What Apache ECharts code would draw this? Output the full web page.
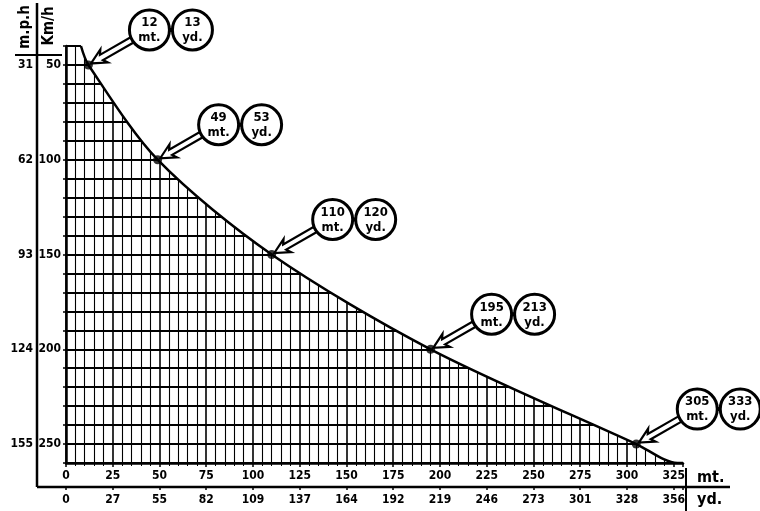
<!DOCTYPE html>
<html>
<head>
<meta charset="utf-8">
<script src="https://cdn.jsdelivr.net/npm/echarts@6/dist/echarts.min.js"></script>
<style>
  html, body { margin: 0; padding: 0; background: #fff; }
  #chart { width: 760px; height: 511px; }
</style>
</head>
<body>
<div id="chart"></div>
<script>
// curve: distance (mt) against speed (km/h)
const curveMt = [8, 12, 49, 110, 195, 305, 327, 330]
const curveKmh = [40, 50, 100, 150, 200, 250, 260, 260]
// short top edge of the hatched area
const topMt = [0, 8]
const topKmh = [40, 40]

// marked points
const markMt = [12, 49, 110, 195, 305]
const markYd = [13, 53, 120, 213, 333]
const markKmh = [50, 100, 150, 200, 250]

// tick labels
const ydLabels = ['0', '27', '55', '82', '109', '137', '164', '192', '219', '246', '273', '301', '328', '356']
const mphLabels = ['31', '62', '93', '124', '155']

const FONT = '"DejaVu Sans Condensed", "Liberation Sans Narrow", sans-serif'
const INK = '#000'

const chart = echarts.init(document.getElementById('chart'))

// callout: two circles + hollow arrow pointing at the point
function renderCallout (params, api) {
  const p = api.coord([api.value(0), api.value(1)])
  const c1 = [p[0] + 61, p[1] - 35]
  const c2 = [c1[0] + 43, c1[1]]
  const r = 20
  const dx = c1[0] - p[0]
  const dy = c1[1] - p[1]
  const len = Math.sqrt(dx * dx + dy * dy)
  const ux = dx / len
  const uy = dy / len
  const nx = -uy
  const ny = ux
  const L = len - r
  const local = [[3, 0], [18, -7.5], [15, -3], [L, -3], [L, 3], [15, 3], [18, 7.5]]
  const pts = local.map(function (q) {
    return [p[0] + ux * q[0] + nx * q[1], p[1] + uy * q[0] + ny * q[1]]
  })
  const txt = function (x, y, s) {
    return {
      type: 'text',
      x: x,
      y: y,
      style: { text: s, align: 'center', verticalAlign: 'middle', font: 'bold 13px ' + FONT, fill: INK }
    }
  }
  return {
    type: 'group',
    children: [
      { type: 'polygon', shape: { points: pts }, style: { fill: '#fff', stroke: INK, lineWidth: 2.2 } },
      { type: 'line', shape: { x1: c1[0] + r - 2, y1: c1[1], x2: c2[0] - r + 2, y2: c2[1] }, style: { stroke: INK, lineWidth: 4 } },
      { type: 'circle', shape: { cx: c1[0], cy: c1[1], r: r }, style: { fill: '#fff', stroke: INK, lineWidth: 3 } },
      { type: 'circle', shape: { cx: c2[0], cy: c2[1], r: r }, style: { fill: '#fff', stroke: INK, lineWidth: 3 } },
      txt(c1[0], c1[1] - 7, String(api.value(0))),
      txt(c1[0], c1[1] + 8, 'mt.'),
      txt(c2[0], c2[1] - 7, String(api.value(2))),
      txt(c2[0], c2[1] + 8, 'yd.')
    ]
  }
}

const labelStyle = { color: INK, fontWeight: 'bold', fontSize: 12, fontFamily: FONT }

const option = {
  backgroundColor: '#fff',
  animation: false,
  grid: { left: 66, right: 77, top: 46, bottom: 48 },
  xAxis: [
    {
      type: 'value',
      min: 0,
      max: 330,
      interval: 25,
      axisLine: { show: true, lineStyle: { color: INK, width: 2.5 } },
      axisTick: { show: true, length: 4, lineStyle: { color: INK, width: 1.5 } },
      minorTick: { show: true, splitNumber: 5, length: 3, lineStyle: { color: INK, width: 1 } },
      splitLine: { show: true, showMaxLine: false, lineStyle: { color: INK, width: 1.6 } },
      minorSplitLine: { show: true, lineStyle: { color: INK, width: 1.1 } },
      axisLabel: Object.assign({
        margin: 7,
        formatter: function (v) { return v % 25 === 0 ? String(v) : '' }
      }, labelStyle)
    },
    {
      type: 'value',
      position: 'bottom',
      offset: 24,
      min: 0,
      max: 330,
      interval: 25,
      axisLine: { show: false },
      axisTick: { show: true, length: 3, lineStyle: { color: INK, width: 1.5 } },
      splitLine: { show: false },
      axisLabel: Object.assign({
        margin: 7,
        formatter: function (v) {
          const i = v / 25
          return Number.isInteger(i) && ydLabels[i] !== undefined ? ydLabels[i] : ''
        }
      }, labelStyle)
    }
  ],
  yAxis: [
    {
      type: 'value',
      inverse: true,
      min: 40,
      max: 260,
      interval: 10,
      axisLine: { show: true, lineStyle: { color: INK, width: 2.5 } },
      axisTick: { show: true, length: 3, lineStyle: { color: INK, width: 1.5 } },
      splitLine: { show: true, showMinLine: false, lineStyle: { color: INK, width: 1.8 } },
      axisLabel: Object.assign({
        margin: 5,
        formatter: function (v) { return v % 50 === 0 ? String(v) : '' }
      }, labelStyle)
    },
    {
      type: 'value',
      inverse: true,
      position: 'left',
      offset: 29,
      min: 40,
      max: 260,
      interval: 10,
      axisLine: { show: false },
      axisTick: { show: false },
      splitLine: { show: false },
      axisLabel: Object.assign({
        margin: 4,
        formatter: function (v) {
          if (v % 50 !== 0) return ''
          return mphLabels[v / 50 - 1] || ''
        }
      }, labelStyle)
    }
  ],
  series: [
    {
      type: 'line',
      data: curveMt.map((m, i) => [m, curveKmh[i]]),
      smooth: 0.3,
      symbol: 'none',
      lineStyle: { color: INK, width: 2.5 },
      areaStyle: { color: '#fff', opacity: 1, origin: 'start' },
      z: 3
    },
    {
      type: 'line',
      data: topMt.map((m, i) => [m, topKmh[i]]),
      symbol: 'none',
      lineStyle: { color: INK, width: 2 },
      z: 3
    },
    {
      type: 'scatter',
      data: markMt.map((m, i) => [m, markKmh[i]]),
      symbolSize: 9,
      itemStyle: { color: INK },
      z: 6
    },
    {
      type: 'custom',
      renderItem: renderCallout,
      clip: false,
      data: markMt.map((m, i) => [m, markKmh[i], markYd[i]]),
      z: 5
    }
  ],
  graphic: [
    { type: 'line', shape: { x1: 37, y1: 3, x2: 37, y2: 487 }, style: { stroke: INK, lineWidth: 2.5 } },
    { type: 'line', shape: { x1: 37, y1: 487, x2: 730, y2: 487 }, style: { stroke: INK, lineWidth: 2.5 } },
    { type: 'line', shape: { x1: 15, y1: 55, x2: 62, y2: 55 }, style: { stroke: INK, lineWidth: 2 } },
    { type: 'line', shape: { x1: 686, y1: 468, x2: 686, y2: 511 }, style: { stroke: INK, lineWidth: 2 } },
    { type: 'text', x: 697, y: 478, style: { text: 'mt.', font: 'bold 16px ' + FONT, fill: INK, verticalAlign: 'middle' } },
    { type: 'text', x: 697, y: 500, style: { text: 'yd.', font: 'bold 16px ' + FONT, fill: INK, verticalAlign: 'middle' } },
    { type: 'text', x: 25, y: 27, rotation: Math.PI / 2, style: { text: 'm.p.h', font: 'bold 15px ' + FONT, fill: INK, align: 'center', verticalAlign: 'middle' } },
    { type: 'text', x: 49, y: 26, rotation: Math.PI / 2, style: { text: 'Km/h', font: 'bold 15px ' + FONT, fill: INK, align: 'center', verticalAlign: 'middle' } }
  ]
}

chart.setOption(option)
</script>
</body>
</html>
